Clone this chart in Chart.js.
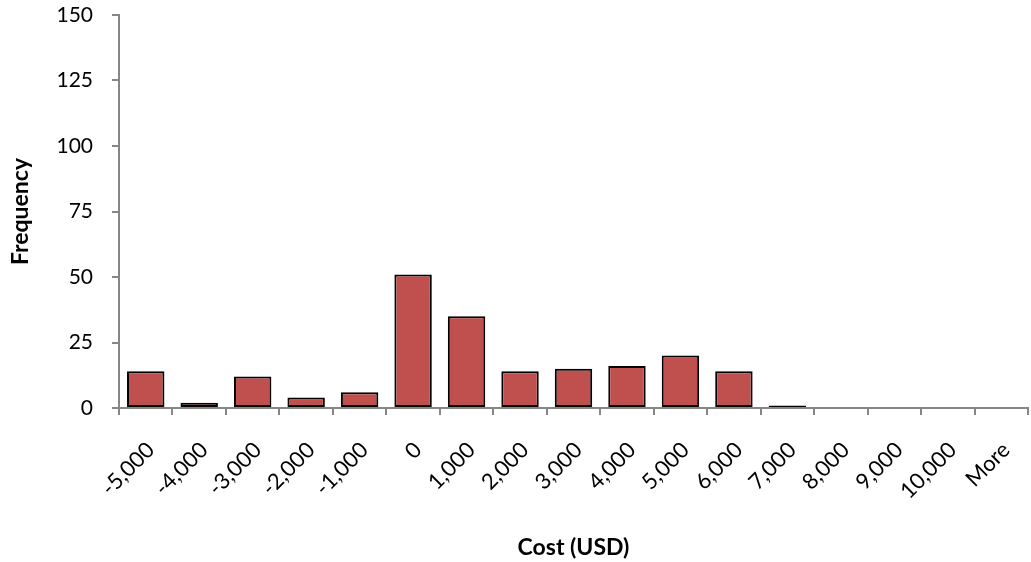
<!DOCTYPE html>
<html>
<head>
<meta charset="utf-8">
<script src="https://cdn.jsdelivr.net/npm/chart.js@4/dist/chart.umd.min.js"></script>
<style>
  html, body { margin: 0; padding: 0; background: #ffffff; }
  #wrap { width: 1031px; height: 562px; }
</style>
</head>
<body>
<div id="wrap"><canvas id="c" width="1031" height="562"></canvas></div>
<script>
// Histogram bins (upper bound of each cost bin) and counts
const binLabels = ['-5,000', '-4,000', '-3,000', '-2,000', '-1,000', '0', '1,000', '2,000',
  '3,000', '4,000', '5,000', '6,000', '7,000', '8,000', '9,000', '10,000', 'More'];
const frequency = [14, 2, 12, 4, 6, 51, 35, 14, 15, 16, 20, 14, 1, 0, 0, 0, 0];
const yTicks = [0, 25, 50, 75, 100, 125, 150];

const axisGray = '#868686';
const fontFamily = 'Lato, "Open Sans", sans-serif';

new Chart(document.getElementById('c'), {
  type: 'bar',
  data: {
    labels: binLabels,
    datasets: [{
      label: 'Frequency',
      data: frequency,
      backgroundColor: '#c0504d',
      borderColor: '#000000',
      borderWidth: 2,
      borderSkipped: false,
      categoryPercentage: 0.7,
      barPercentage: 1.0
    }]
  },
  options: {
    responsive: false,
    animation: false,
    layout: { padding: { top: 15, right: 3, left: 0, bottom: 0 } },
    plugins: {
      legend: { display: false },
      tooltip: { enabled: false }
    },
    scales: {
      x: {
        grid: { drawOnChartArea: false, drawTicks: true, tickLength: 7, color: axisGray, lineWidth: 2 },
        border: { color: axisGray, width: 2 },
        ticks: {
          color: '#000000',
          font: { family: fontFamily, size: 22 },
          minRotation: 45,
          maxRotation: 45,
          padding: 22,
          labelOffset: 5
        },
        title: {
          display: true,
          text: 'Cost (USD)',
          color: '#000000',
          font: { family: fontFamily, size: 23, weight: 'bold' },
          padding: { top: 4, bottom: 1 }
        },
        afterFit: (scale) => {
          scale.height = 154;
          scale.paddingLeft = 0;
          scale.paddingRight = 0;
        }
      },
      y: {
        min: 0,
        max: 150,
        afterBuildTicks: (scale) => { scale.ticks = yTicks.map(v => ({ value: v })); },
        grid: { drawOnChartArea: false, drawTicks: true, tickLength: 7, color: axisGray, lineWidth: 2 },
        border: { color: axisGray, width: 2 },
        ticks: {
          color: '#000000',
          font: { family: fontFamily, size: 21 },
          padding: 19
        },
        title: {
          display: true,
          text: 'Frequency',
          color: '#000000',
          font: { family: fontFamily, size: 23, weight: 'bold' },
          padding: { top: 7, bottom: 4 }
        },
        afterFit: (scale) => {
          scale.width = 119;
          scale.paddingTop = 0;
          scale.paddingBottom = 0;
        }
      }
    }
  }
});
</script>
</body>
</html>
